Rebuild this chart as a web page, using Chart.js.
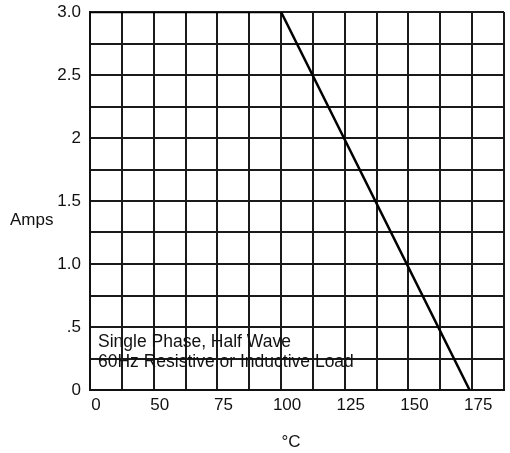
<!DOCTYPE html>
<html>
<head>
<meta charset="utf-8">
<title>Amps vs °C</title>
<script src="https://cdn.jsdelivr.net/npm/chart.js@4.4.1/dist/chart.umd.min.js"></script>
<style>
  html, body { margin: 0; padding: 0; background: #fff; }
  #wrap { width: 510px; height: 453px; }
</style>
</head>
<body>
<div id="wrap"><canvas id="derating" width="510" height="453"></canvas></div>
<script>
// ---- data ----
const tempC = [25, 100, 174];
const amps = [3, 3, 0];

const xTickValues = [25, 50, 75, 100, 125, 150, 175];
const xTickLabels = ["0", "50", "75", "100", "125", "150", "175"];
const yTickValues = [0, 0.5, 1, 1.5, 2, 2.5, 3];
const yTickLabels = ["0", ".5", "1.0", "1.5", "2", "2.5", "3.0"];

const noteLines = ["Single Phase, Half Wave", "60Hz Resistive or Inductive Load"];

const FONT = "'Liberation Sans', Arial, sans-serif";

const pickLabel = (values, labels) => v => {
  const i = values.findIndex(t => Math.abs(t - v) < 1e-6);
  return i >= 0 ? labels[i] : "";
};

// ---- titles + note drawn on the canvas ----
const textPlugin = {
  id: "texts",
  afterDraw(chart) {
    const { ctx, chartArea } = chart;
    ctx.save();
    ctx.fillStyle = "#111";
    ctx.textBaseline = "middle";

    // y title (horizontal)
    ctx.font = "17px " + FONT;
    ctx.textAlign = "left";
    ctx.fillText("Amps", 10, 220);

    // note in lower left of the plot
    ctx.font = "17.5px " + FONT;
    noteLines.forEach((line, i) => {
      ctx.fillText(line, chartArea.left + 8, 342 + i * 20);
    });

    // x title
    ctx.font = "17px " + FONT;
    ctx.textAlign = "center";
    ctx.fillText("°C", 291, 442);
    ctx.restore();
  },
};

const pts = tempC.map((t, i) => ({ x: t, y: amps[i] }));

new Chart(document.getElementById("derating"), {
  type: "scatter",
  data: {
    datasets: [{
      data: pts,
      showLine: true,
      borderColor: "#000",
      borderWidth: 2.5,
      pointRadius: 0,
      tension: 0,
    }],
  },
  options: {
    responsive: false,
    animation: false,
    layout: { padding: { top: 12, right: 6, left: 0, bottom: 0 } },
    plugins: {
      legend: { display: false },
      tooltip: { enabled: false },
    },
    scales: {
      x: {
        type: "linear",
        min: 25,
        max: 187.5,
        afterFit: s => { s.height = 63; s.paddingLeft = 0; s.paddingRight = 0; },
        border: { display: true, color: "#111", width: 2 },
        grid: { color: "#1a1a1a", lineWidth: 2, drawTicks: false },
        ticks: {
          stepSize: 12.5,
          autoSkip: false,
          maxRotation: 0,
          padding: 5,
          labelOffset: 6,
          color: "#111",
          font: { family: FONT, size: 17 },
          callback: pickLabel(xTickValues, xTickLabels),
        },
      },
      y: {
        min: 0,
        max: 3,
        afterFit: s => { s.width = 90; s.paddingTop = 0; s.paddingBottom = 0; },
        border: { display: true, color: "#111", width: 2 },
        grid: { color: "#1a1a1a", lineWidth: 2, drawTicks: false },
        ticks: {
          stepSize: 0.25,
          autoSkip: false,
          padding: 9,
          color: "#111",
          font: { family: FONT, size: 17 },
          callback: pickLabel(yTickValues, yTickLabels),
        },
      },
    },
  },
  plugins: [textPlugin],
});
</script>
</body>
</html>
